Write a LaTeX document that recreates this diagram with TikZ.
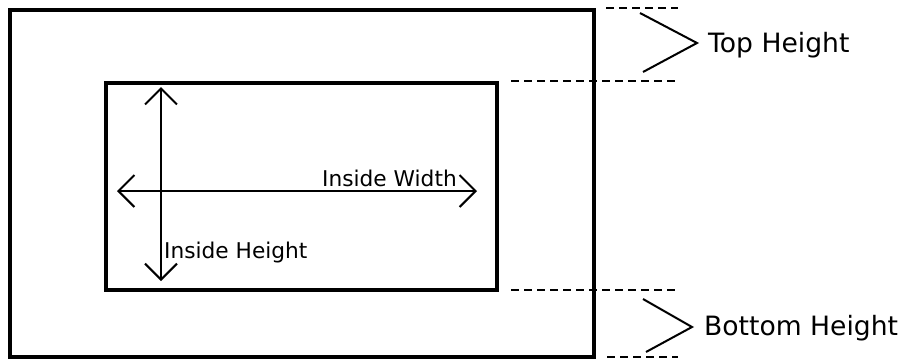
\documentclass[tikz,border=0pt]{standalone}
\usepackage{fontspec}
\setmainfont{DejaVu Sans}
\usetikzlibrary{arrows.meta}
\tikzset{
  frame/.style={line width=4pt, line join=miter},
  guide/.style={line width=2pt, dash pattern=on 8pt off 5pt},
  brace/.style={line width=2pt},
  dim/.style={line width=2pt, {Straight Barb[length=16pt,width=32pt,line width=2pt]}-{Straight Barb[length=16pt,width=32pt,line width=2pt]}},
  biglabel/.style={inner sep=0pt, anchor=base west, font=\fontsize{26.6}{30}\selectfont},
  smalllabel/.style={inner sep=0pt, anchor=base west, font=\fontsize{21.7}{25}\selectfont},
}
\begin{document}
\begin{tikzpicture}[x=1pt,y=-1pt]
\useasboundingbox (0,0) rectangle (916,360);
% outer and inner frames
\coordinate (o1) at (10,10);
\coordinate (o2) at (594,357);
\coordinate (i1) at (106,83);
\coordinate (i2) at (497,290);
\draw[frame] (o1) rectangle (o2);
\draw[frame] (i1) rectangle (i2);
% guide lines
\coordinate (g1a) at (606,8);   \coordinate (g1b) at (678,8);
\coordinate (g2a) at (511,81);  \coordinate (g2b) at (677,81);
\coordinate (g3a) at (511,290); \coordinate (g3b) at (676,290);
\coordinate (g4a) at (607,357); \coordinate (g4b) at (678,357);
\draw[guide] (g1a) -- (g1b);
\draw[guide] (g2a) -- (g2b);
\draw[guide] (g3a) -- (g3b);
\draw[guide] (g4a) -- (g4b);
% chevrons
\coordinate (t1) at (640,13); \coordinate (t2) at (697,43); \coordinate (t3) at (643,72);
\coordinate (b1) at (643,299); \coordinate (b2) at (692,327); \coordinate (b3) at (646,352);
\draw[brace] (t1) -- (t2) -- (t3);
\draw[brace] (b1) -- (b2) -- (b3);
\node[biglabel] (top) at (708,52) {Top Height};
\node[biglabel] (bot) at (704,335) {Bottom Height};
% dimension arrows
\coordinate (va) at (161,87);  \coordinate (vb) at (161,281);
\coordinate (ha) at (117,191); \coordinate (hb) at (477,191);
\draw[dim] (va) -- (vb);
\draw[dim] (ha) -- (hb);
\node[smalllabel] (iw) at (322,186) {Inside Width};
\node[smalllabel] (ih) at (164,258) {Inside Height};
\end{tikzpicture}
\end{document}
